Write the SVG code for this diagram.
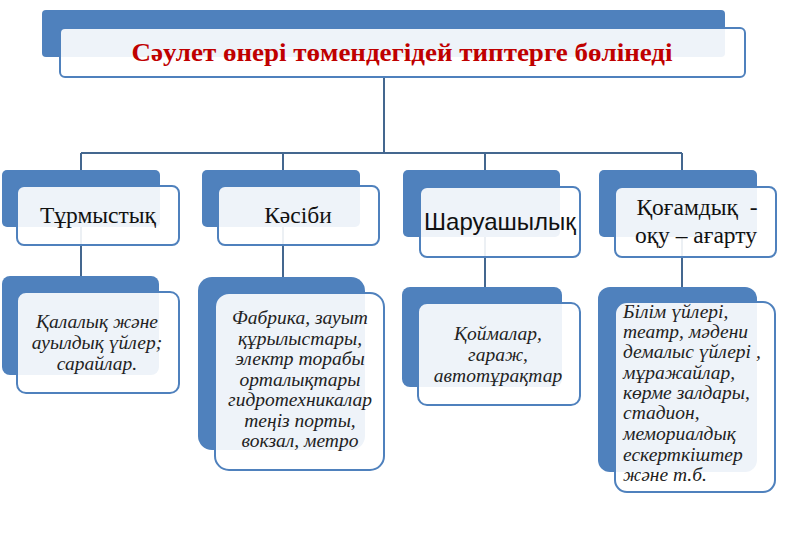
<svg xmlns="http://www.w3.org/2000/svg" width="800" height="560" viewBox="0 0 800 560">
<style>
.back{fill:#4F81BD}
.front{fill:#FFFFFF;fill-opacity:0.9;stroke:#4F81BD;stroke-width:2}
.conn{fill:none;stroke:#44678F;stroke-width:2}
.title{font-family:"Liberation Serif","DejaVu Serif",serif;font-weight:bold;font-size:26px;fill:#C00000;text-anchor:middle}
.l2{font-family:"Liberation Serif","DejaVu Serif",serif;font-size:23.5px;fill:#111;text-anchor:middle}
.l2s{font-family:"Liberation Sans","DejaVu Sans",sans-serif;font-size:24px;fill:#111;text-anchor:middle}
.l3{font-family:"Liberation Serif","DejaVu Serif",serif;font-style:italic;font-size:19.5px;fill:#222;text-anchor:middle}
.l3l{font-family:"Liberation Serif","DejaVu Serif",serif;font-style:italic;font-size:19.5px;fill:#222}
</style>
<rect width="800" height="560" fill="#FFFFFF"/>
<g id="connectors">
<path class="conn" d="M384 77 V153 M81 153 H682 M81 153 V292 M283 153 V293 M485 153 V303 M682 153 V302"/>
</g>
<g id="title">
<rect class="back" x="42" y="10" width="683" height="47" rx="4"/>
<rect class="front" x="60" y="28" width="685" height="49" rx="5"/>
<text class="title" x="402" y="61" textLength="541" lengthAdjust="spacingAndGlyphs">Сәулет өнері төмендегідей типтерге бөлінеді</text>
</g>
<g id="n-turmystyq">
<rect class="back" x="2" y="170" width="158" height="57" rx="5"/>
<rect class="front" x="17" y="186" width="162" height="59" rx="7"/>
<text class="l2" x="98" y="223">Тұрмыстық</text>
</g>
<g id="n-kasibi">
<rect class="back" x="202" y="170" width="158" height="57" rx="5"/>
<rect class="front" x="218" y="186" width="161" height="59" rx="7"/>
<text class="l2" x="298" y="223">Кәсіби</text>
</g>
<g id="n-sharuashylyq">
<rect class="back" x="403" y="170" width="157" height="67" rx="5"/>
<rect class="front" x="420" y="187" width="160" height="70" rx="7"/>
<text class="l2s" x="500" y="230">Шаруашылық</text>
</g>
<g id="n-qogamdyq">
<rect class="back" x="599" y="170" width="158" height="67" rx="5"/>
<rect class="front" x="615" y="187" width="161" height="70" rx="7"/>
<text class="l2" x="697" y="215" xml:space="preserve">Қоғамдық  -</text>
<text class="l2" x="696" y="243">оқу – ағарту</text>
</g>
<g id="n-qalalyq">
<rect class="back" x="2" y="276" width="157" height="99" rx="8"/>
<rect class="front" x="17" y="292" width="162" height="101" rx="9"/>
<text class="l3" x="97" y="328">Қалалық және</text>
<text class="l3" x="97" y="349">ауылдық үйлер;</text>
<text class="l3" x="97" y="370">сарайлар.</text>
</g>
<g id="n-fabrika">
<rect class="back" x="198" y="277" width="167" height="173" rx="14"/>
<rect class="front" x="215" y="293" width="169" height="177" rx="14"/>
<text class="l3" x="300" y="324">Фабрика, зауыт</text>
<text class="l3" x="300" y="345">құрылыстары,</text>
<text class="l3" x="300" y="365">электр торабы</text>
<text class="l3" x="300" y="386">орталықтары</text>
<text class="l3" x="300" y="406">гидротехникалар</text>
<text class="l3" x="300" y="427">теңіз порты,</text>
<text class="l3" x="300" y="447">вокзал, метро</text>
</g>
<g id="n-qoimalar">
<rect class="back" x="402" y="287" width="160" height="100" rx="8"/>
<rect class="front" x="418" y="303" width="162" height="102" rx="9"/>
<text class="l3" x="498" y="340">Қоймалар,</text>
<text class="l3" x="498" y="361">гараж,</text>
<text class="l3" x="498" y="382">автотұрақтар</text>
</g>
<g id="n-bilim">
<rect class="back" x="598" y="287" width="159" height="185" rx="12"/>
<rect class="front" x="615" y="302" width="160" height="190" rx="12"/>
<text class="l3l" x="623" y="318">Білім үйлері,</text>
<text class="l3l" x="623" y="338">театр, мәдени</text>
<text class="l3l" x="623" y="358">демалыс үйлері ,</text>
<text class="l3l" x="623" y="379">мұражайлар,</text>
<text class="l3l" x="623" y="399">көрме залдары,</text>
<text class="l3l" x="623" y="419">стадион,</text>
<text class="l3l" x="623" y="440">мемориалдық</text>
<text class="l3l" x="623" y="461">ескерткіштер</text>
<text class="l3l" x="623" y="481">және т.б.</text>
</g>
</svg>
